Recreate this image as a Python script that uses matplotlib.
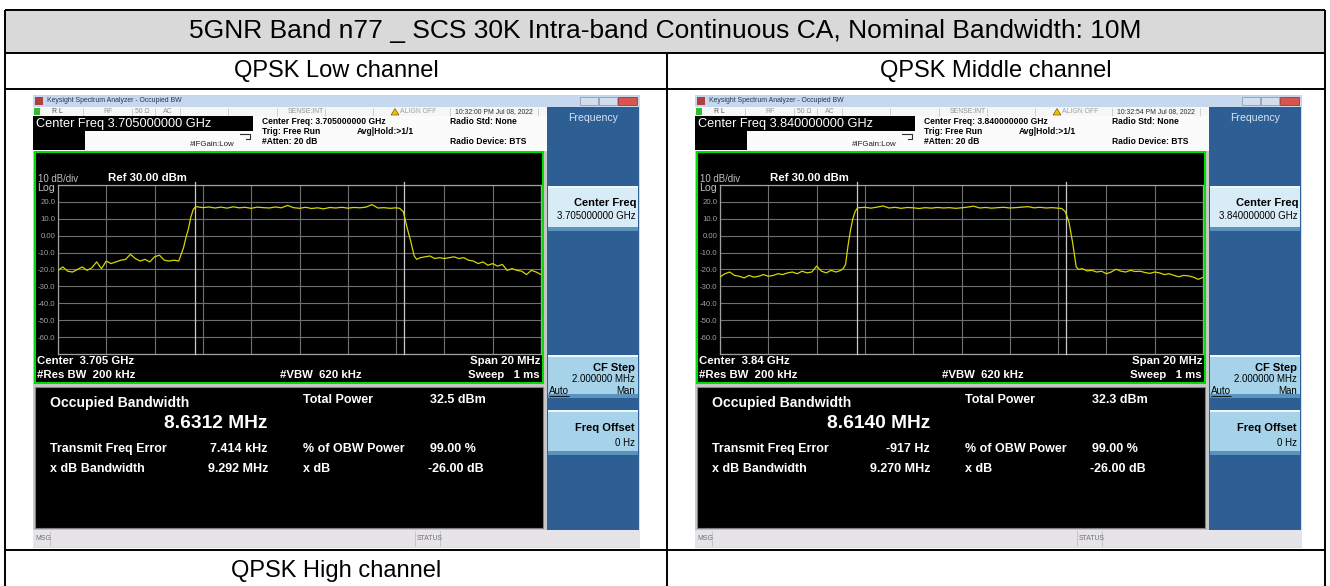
import matplotlib
matplotlib.use("Agg")
import matplotlib.pyplot as plt
from matplotlib.patches import Rectangle, Polygon

# ---------------- data ----------------
TITLE = "5GNR Band n77 _ SCS 30K Intra-band Continuous CA, Nominal Bandwidth: 10M"
CHANNELS = ["QPSK Low channel", "QPSK Middle channel", "QPSK High channel"]
CENTER_GHZ = ["3.705000000", "3.840000000"]
CENTER_SHORT = ["3.705 GHz", "3.84 GHz"]
TIMESTAMPS = ["10:32:00 PM Jul 08, 2022", "10:32:54 PM Jul 08, 2022"]
OBW_MHZ = [8.6312, 8.6140]
OBW_TEXT = ["8.6312 MHz", "8.6140 MHz"]
TOTAL_POWER = ["32.5 dBm", "32.3 dBm"]
FREQ_ERR = ["7.414 kHz", "-917 Hz"]
XDB_BW = ["9.292 MHz", "9.270 MHz"]
SPAN_MHZ = 20
REF_DBM = 30
DB_PER_DIV = 10

FREQ_MHZ = [-10.0, -9.8, -9.6, -9.4, -9.2, -9.0, -8.8, -8.6, -8.4, -8.2, -8.0, -7.8, -7.6,
            -7.4, -7.2, -7.0, -6.8, -6.6, -6.4, -6.2, -6.0, -5.8, -5.6, -5.4, -5.2, -5.0,
            -4.9, -4.8, -4.7, -4.6, -4.5, -4.4, -4.3,
            -4.0, -3.75, -3.5, -3.25, -3.0, -2.75, -2.5, -2.25, -2.0, -1.75, -1.5, -1.25,
            -1.0, -0.75, -0.5, -0.25, 0.0, 0.25, 0.5, 0.75, 1.0, 1.25, 1.5, 1.75, 2.0,
            2.25, 2.5, 2.75, 3.0, 3.25, 3.5, 3.75, 4.0, 4.15,
            4.3, 4.45, 4.6, 4.75, 4.85,
            5.0, 5.2, 5.4, 5.6, 5.8, 6.0, 6.2, 6.4, 6.6, 6.8, 7.0, 7.2, 7.4, 7.6, 7.8,
            8.0, 8.2, 8.4, 8.6, 8.8, 9.0, 9.2, 9.4, 9.6, 9.8, 10.0]

LOW_DBM = [-20.5, -18.5, -21.0, -21.5, -20.0, -18.5, -20.5, -19.0, -15.5, -19.5, -15.0, -16.5, -15.5,
           -14.5, -14.0, -11.0, -13.5, -15.0, -14.0, -15.5, -12.5, -11.5, -14.5, -15.0, -14.5, -15.0,
           -11.0, -7.0, -1.0, 4.0, 11.0, 15.5, 17.2,
           16.6, 17.0, 16.4, 16.9, 16.3, 17.1, 16.5, 16.8, 16.2, 16.9, 16.6, 16.4,
           17.0, 16.5, 17.9, 16.6, 16.2, 16.8, 16.1, 16.5, 15.9, 16.7, 16.4, 16.8, 16.3,
           16.7, 16.5, 16.9, 18.4, 16.4, 16.6, 16.2, 16.5, 16.2,
           14.2, 5.0, -3.0, -12.0, -14.0,
           -13.0, -12.5, -12.0, -13.5, -13.0, -13.5, -13.0, -12.5, -13.5, -13.0, -14.5, -15.0, -16.5, -15.5, -17.5,
           -16.5, -18.0, -17.0, -20.5, -19.5, -20.5, -21.0, -23.0, -20.5, -21.5, -23.0]

MID_DBM = [-24.5, -22.5, -21.5, -23.5, -24.0, -25.0, -23.5, -24.5, -24.0, -23.0, -24.0, -23.5, -22.5,
           -23.0, -22.0, -21.5, -22.5, -21.0, -22.0, -21.5, -18.0, -21.0, -22.0, -20.5, -21.5, -20.5,
           -19.5, -17.0, -6.0, 3.0, 10.0, 14.5, 16.5,
           16.8, 16.3, 16.9, 17.6, 16.4, 16.8, 16.2, 16.7, 16.5, 16.1, 16.6, 16.3,
           16.7, 16.4, 16.6, 16.2, 16.5, 16.9, 17.5, 16.4, 16.7, 16.3, 16.6, 16.8, 16.4,
           16.6, 16.9, 17.2, 16.5, 16.8, 16.4, 16.6, 16.3, 16.1,
           14.2, 8.0, -4.0, -18.5, -20.0,
           -19.5, -20.8, -20.5, -21.5, -21.0, -22.5, -21.5, -19.8, -21.0, -21.5, -20.5, -21.2, -21.0, -21.8, -22.3,
           -21.5, -22.0, -23.0, -22.5, -23.5, -24.3, -23.5, -23.8, -24.5, -25.8, -24.7]

TRACES = [LOW_DBM, MID_DBM]
YTICK_LABELS = ["", "-60.0", "-50.0", "-40.0", "-30.0", "-20.0", "-10.0", "0.00", "10.0", "20.0", ""]

# ---------------- figure ----------------
W, H = 1330, 586
fig = plt.figure(figsize=(13.3, 5.86), dpi=100)
fig.patch.set_facecolor("white")
bg = fig.add_axes([0, 0, 1, 1])
bg.set_xlim(0, W)
bg.set_ylim(H, 0)
bg.axis("off")
renderer = fig.canvas.get_renderer()
FONT = ["Liberation Sans", "DejaVu Sans"]


def rect(x0, y0, x1, y1, fc, ec="none", lw=0.0, z=1):
    bg.add_patch(Rectangle((x0, y0), x1 - x0, y1 - y0, facecolor=fc, edgecolor=ec,
                           linewidth=lw, zorder=z))


def size_for(s, width, weight="normal"):
    t = bg.text(0, 0, s, fontsize=10, fontweight=weight, family=FONT)
    w = t.get_window_extent(renderer).width
    t.remove()
    return 10 * width / w


def put(x, y, s, size, color="black", ha="left", weight="normal", z=6):
    return bg.text(x, y, s, fontsize=size, color=color, ha=ha, va="center",
                   fontweight=weight, family=FONT, zorder=z)


def hline(x0, x1, y, color="black", lw=1.4, z=8):
    bg.plot([x0, x1], [y, y], color=color, lw=lw, zorder=z, solid_capstyle="butt")


def vline(x, y0, y1, color="black", lw=1.4, z=8):
    bg.plot([x, x], [y0, y1], color=color, lw=lw, zorder=z, solid_capstyle="butt")


# font sizes derived from measured string widths in the reference
S_TITLE = size_for(TITLE, 955)
S_CH = size_for(CHANNELS[0], 205)
S_WIN = size_for("Keysight Spectrum Analyzer - Occupied BW", 135)
S_STAT = size_for("SENSE:INT", 36)
S_CF = size_for("Center Freq 3.705000000 GHz", 175)
S_HDR = size_for("Center Freq: 3.705000000 GHz", 123, "bold")
S_IFG = size_for("#IFGain:Low", 45)
S_SKB = size_for("Center Freq", 63, "bold")
S_SKN = size_for("3.705000000 GHz", 79)
S_FREQ = size_for("Frequency", 50)
S_DIV = size_for("10 dB/div", 40)
S_REF = size_for("Ref 30.00 dBm", 79, "bold")
S_ANN = size_for("#Res BW  200 kHz", 98, "bold")
S_OCC = size_for("Occupied Bandwidth", 140, "bold")
S_OBW = size_for("8.6312 MHz", 103, "bold")
S_RES = size_for("Transmit Freq Error", 117, "bold")

# ---------------- table ----------------
TL, TR, TT = 5, 1325, 10
COLX = 667
rect(TL, TT, TR, 53, "#d9d9d9", z=0)
hline(TL, TR, TT)
hline(TL, TR, 53)
hline(TL, TR, 89)
hline(TL, TR, 550)
vline(TL, TT, H)
vline(TR, TT, H)
vline(COLX, 53, H)

put((TL + TR) / 2, 31, TITLE, S_TITLE, ha="center")
put((TL + COLX) / 2, 71, CHANNELS[0], S_CH, ha="center")
put((COLX + TR) / 2, 71, CHANNELS[1], S_CH, ha="center")
put((TL + COLX) / 2, 571, CHANNELS[2], S_CH, ha="center")

# ---------------- screenshots ----------------
OX = [0, 662]
for i, ox in enumerate(OX):
    X = lambda v: v + ox
    # window frame
    rect(X(33), 95, X(640), 548, "#dcdcdc", z=1)
    rect(X(33), 95, X(640), 107, "#c6d8ee", z=2)
    rect(X(35), 97, X(43), 105, "#b04040", z=3)
    put(X(47), 101, "Keysight Spectrum Analyzer - Occupied BW", S_WIN, color="#2a3550")
    rect(X(580), 97, X(598), 105, "#d2deee", ec="#8090a8", lw=0.5, z=3)
    rect(X(599), 97, X(617), 105, "#d2deee", ec="#8090a8", lw=0.5, z=3)
    rect(X(618), 97, X(637), 105, "#d9534f", ec="#8a2a2a", lw=0.5, z=3)
    # status row
    rect(X(33), 107, X(547), 116, "#f6f6f6", z=2)
    for sx in [83, 132, 155, 180, 228, 277, 325, 373, 450, 538]:
        vline(X(sx), 107.5, 115.5, color="#c8c8c8", lw=0.6, z=3)
    rect(X(34), 108, X(40), 115, "#33bb33", z=3)
    put(X(52), 111.5, "R L", S_STAT, color="#505050")
    put(X(103), 111.5, "RF", S_STAT, color="#909090")
    put(X(135), 111.5, "50 Ω", S_STAT, color="#909090")
    put(X(163), 111.5, "AC", S_STAT, color="#909090")
    put(X(288), 111.5, "SENSE:INT", S_STAT, color="#909090")
    bg.add_patch(Polygon([[X(391), 115], [X(399), 115], [X(395), 108.5]], closed=True,
                         facecolor="#f0c000", edgecolor="#604000", lw=0.4, zorder=4))
    put(X(400), 111.5, "ALIGN OFF", S_STAT, color="#a0a0a0")
    put(X(455), 111.5, TIMESTAMPS[i], S_STAT, color="#303030")
    # header info
    rect(X(33), 116, X(547), 151, "#fbfbfb", z=2)
    rect(X(33), 116, X(253), 131, "black", z=3)
    rect(X(33), 131, X(85), 150, "black", z=3)
    put(X(36), 123.5, "Center Freq " + CENTER_GHZ[i] + " GHz", S_CF, color="white")
    put(X(190), 144.5, "#IFGain:Low", S_IFG, color="#202020")
    bg.plot([X(240), X(250), X(250), X(246)], [134, 134, 139, 139], color="#303030", lw=0.8, zorder=5)
    put(X(262), 122, "Center Freq: " + CENTER_GHZ[i] + " GHz", S_HDR, weight="bold")
    put(X(262), 132, "Trig: Free Run", S_HDR, weight="bold")
    put(X(262), 142, "#Atten: 20 dB", S_HDR, weight="bold")
    put(X(357), 132, "Avg|Hold:>1/1", S_HDR, weight="bold")
    put(X(450), 122, "Radio Std: None", S_HDR, weight="bold")
    put(X(450), 142, "Radio Device: BTS", S_HDR, weight="bold")
    # right soft-key panel
    rect(X(547), 107, X(639), 530, "#2e5f94", z=2)
    put(X(593), 118, "Frequency", S_FREQ, color="#d8e6f4", ha="center")
    for (y0, y1, fc) in [(186, 231, "#d8ecf8"), (355, 398, "#a6d3ea"), (410, 455, "#a6d3ea")]:
        rect(X(548), y0, X(638), y1, fc, z=3)
        rect(X(548), y0, X(638), y0 + 2, "#eef7fc", z=4)
        rect(X(548), y1 - 4, X(638), y1, "#5b93bf", z=4)
    put(X(636), 203, "Center Freq", S_SKB, ha="right", weight="bold")
    put(X(636), 216, CENTER_GHZ[i] + " GHz", S_SKN, ha="right")
    put(X(635), 368, "CF Step", S_SKB, ha="right", weight="bold")
    put(X(635), 379, "2.000000 MHz", S_SKN, ha="right")
    put(X(549), 391.5, "Auto", S_SKN)
    hline(X(549), X(569), 396, color="black", lw=0.6)
    put(X(635), 391.5, "Man", S_SKN, ha="right")
    put(X(635), 428, "Freq Offset", S_SKB, ha="right", weight="bold")
    put(X(635), 443, "0 Hz", S_SKN, ha="right")
    # display area
    rect(X(33), 151, X(547), 530, "#c8c8c8", z=2)
    rect(X(35), 152, X(543), 383, "black", ec="#00dd00", lw=1.5, z=3)
    rect(X(35), 387, X(543), 528, "black", ec="#808080", lw=0.8, z=3)
    put(X(38), 179, "10 dB/div", S_DIV, color="#c0c0c0")
    put(X(108), 178, "Ref %.2f dBm" % REF_DBM, S_REF, color="white", weight="bold")
    put(X(37), 188, "Log", S_DIV * 1.1, color="#c0c0c0")
    put(X(37), 361, "Center  " + CENTER_SHORT[i], S_ANN, color="white", weight="bold")
    put(X(37), 375, "#Res BW  200 kHz", S_ANN, color="white", weight="bold")
    put(X(280), 375, "#VBW  620 kHz", S_ANN, color="white", weight="bold")
    put(X(540), 361, "Span %d MHz" % SPAN_MHZ, S_ANN, color="white", weight="bold", ha="right")
    put(X(540), 375, "Sweep   1 ms", S_ANN, color="white", weight="bold", ha="right")
    # results
    put(X(50), 403, "Occupied Bandwidth", S_OCC, color="white", weight="bold")
    put(X(268), 423, OBW_TEXT[i], S_OBW, color="white", weight="bold", ha="right")
    put(X(50), 449, "Transmit Freq Error", S_RES, color="white", weight="bold")
    put(X(268), 449, FREQ_ERR[i], S_RES, color="white", weight="bold", ha="right")
    put(X(50), 469, "x dB Bandwidth", S_RES, color="white", weight="bold")
    put(X(268), 469, XDB_BW[i], S_RES, color="white", weight="bold", ha="right")
    put(X(303), 400, "Total Power", S_RES, color="white", weight="bold")
    put(X(430), 400, TOTAL_POWER[i], S_RES, color="white", weight="bold")
    put(X(303), 449, "% of OBW Power", S_RES, color="white", weight="bold")
    put(X(430), 449, "99.00 %", S_RES, color="white", weight="bold")
    put(X(303), 469, "x dB", S_RES, color="white", weight="bold")
    put(X(428), 469, "-26.00 dB", S_RES, color="white", weight="bold")
    # bottom status bar
    rect(X(33), 530, X(640), 547, "#e6e4e8", z=2)
    vline(X(50), 531, 546, color="#c0c0c0", lw=0.6, z=3)
    vline(X(415), 531, 546, color="#c0c0c0", lw=0.6, z=3)
    vline(X(440), 531, 546, color="#c0c0c0", lw=0.6, z=3)
    put(X(35), 538, "MSG", S_STAT, color="#707070")
    put(X(417), 538, "STATUS", S_STAT, color="#707070")

    # spectrum graticule
    gx0, gx1, gy0, gy1 = X(58), X(541), 185, 354
    ax = fig.add_axes([gx0 / W, 1 - gy1 / H, (gx1 - gx0) / W, (gy1 - gy0) / H], zorder=5)
    ax.set_facecolor("black")
    ax.set_xlim(-SPAN_MHZ / 2, SPAN_MHZ / 2)
    ax.set_ylim(REF_DBM - 10 * DB_PER_DIV, REF_DBM)
    ax.set_xticks([-10, -8, -6, -4, -2, 0, 2, 4, 6, 8, 10])
    ax.set_yticks([-70, -60, -50, -40, -30, -20, -10, 0, 10, 20, 30])
    ax.set_xticklabels([])
    ax.set_yticklabels(YTICK_LABELS, family=FONT, fontsize=5.6, color="#a0a0a0")
    ax.tick_params(length=0, pad=2.0)
    ax.grid(True, color="#707070", lw=0.8)
    for sp in ax.spines.values():
        sp.set_color("#a0a0a0")
        sp.set_linewidth(0.9)
    half = OBW_MHZ[i] / 2
    for xm in (-half, half):
        ax.axvline(xm, ymin=0, ymax=1.015, color="#c8c8c8", lw=0.9, clip_on=False, zorder=3)
    ax.plot(FREQ_MHZ, TRACES[i], color="#d6d600", lw=0.9, zorder=4)

fig.savefig("out.png", dpi=100, facecolor="white")
